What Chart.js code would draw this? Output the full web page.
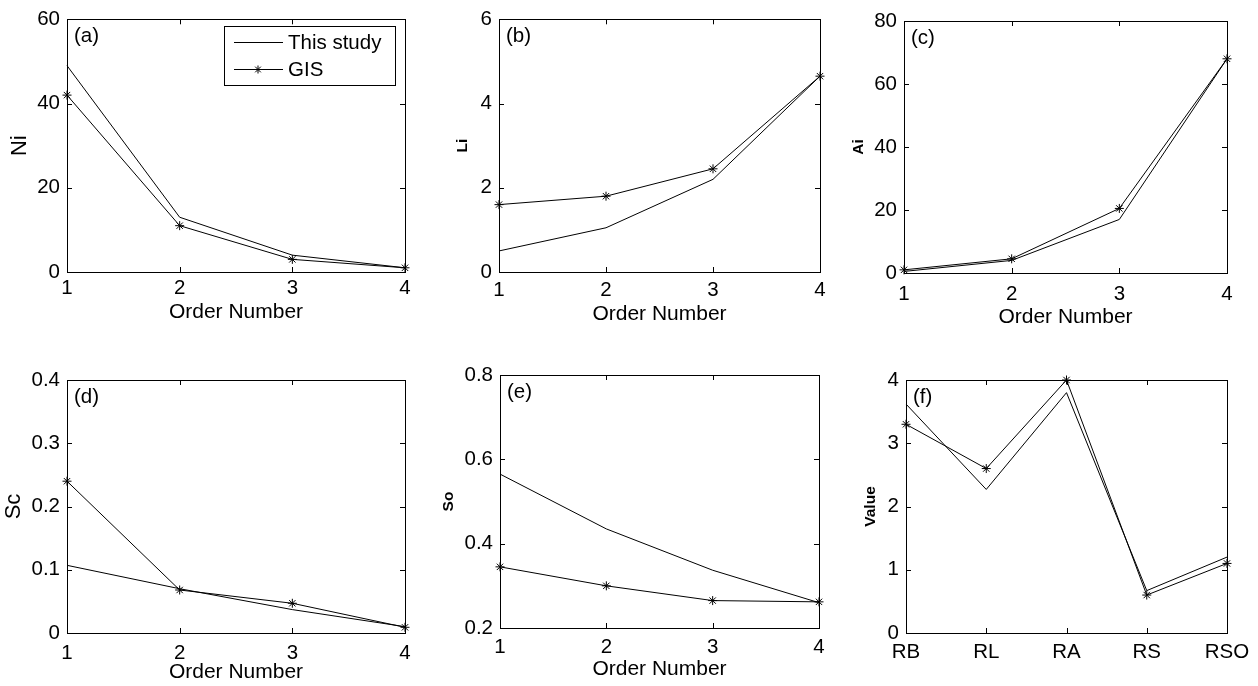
<!DOCTYPE html>
<html>
<head>
    <meta charset="utf-8">
    <title>Order Number panels</title>
    <script src="https://cdn.jsdelivr.net/npm/chart.js@4.4.0/dist/chart.umd.min.js"></script>
    <style>
        body { margin: 0; background: #fff; }
        #wrap { position: relative; width: 1258px; height: 686px; }
        .panel { position: absolute; }
    </style>
</head>
<body>
    <div id="wrap"></div>
    <script>
        // data
        const orders = [1, 2, 3, 4];
        const ratioLabels = ['RB', 'RL', 'RA', 'RS', 'RSO'];
        const seriesNames = ['This study', 'GIS'];

        const niStudy = [49, 13, 4, 1];
        const niGIS = [42, 11, 3, 1];
        const liStudy = [0.5, 1.05, 2.2, 4.65];
        const liGIS = [1.6, 1.8, 2.45, 4.65];
        const aiStudy = [0.5, 4, 17, 68];
        const aiGIS = [1, 4.5, 20.5, 68];
        const scStudy = [0.107, 0.07, 0.037, 0.01];
        const scGIS = [0.24, 0.068, 0.047, 0.009];
        const soStudy = [0.565, 0.435, 0.337, 0.26];
        const soGIS = [0.345, 0.3, 0.265, 0.262];
        const ratioStudy = [3.62, 2.27, 3.8, 0.67, 1.2];
        const ratioGIS = [3.3, 2.6, 4.0, 0.6, 1.1];

        Chart.defaults.font.family = '"Liberation Sans", Arial, Helvetica, sans-serif';
        Chart.defaults.font.size = 20.5;
        Chart.defaults.color = '#000';
        Chart.defaults.animation = false;

        const plainTitle = { size: 22, weight: 'normal' };
        const boldTitle = { size: 15.5, weight: 'bold' };

        // layout of each panel: container box + wanted plot area (page px)
        const panels = [
            { id: 'a', box: [0, 0, 420, 340], plot: [67, 16, 405, 272], y: [0, 60, 20], yTitle: 'Ni', yFont: plainTitle, yTitleX: 20, xTitleY: 313, xPad: 4,
              study: niStudy, gis: niGIS, legend: true },
            { id: 'b', box: [420, 0, 418, 340], plot: [499, 16, 820, 272], y: [0, 6, 2], yTitle: 'Li', yFont: boldTitle, yTitleX: 463, xTitleY: 315, xPad: 6,
              study: liStudy, gis: liGIS },
            { id: 'c', box: [838, 0, 420, 340], plot: [904, 21, 1227, 273], y: [0, 80, 20], yTitle: 'Ai', yFont: boldTitle, yTitleX: 859, xTitleY: 318, xPad: 9,
              study: aiStudy, gis: aiGIS },
            { id: 'd', box: [0, 340, 420, 346], plot: [67, 380, 405, 633], y: [0, 0.4, 0.1], yTitle: 'Sc', yFont: plainTitle, yTitleX: 14, xTitleY: 673, xPad: 8,
              study: scStudy, gis: scGIS },
            { id: 'e', box: [420, 340, 418, 346], plot: [500, 375, 819, 628], y: [0.2, 0.8, 0.2], yTitle: 'So', yFont: boldTitle, yTitleX: 449, xTitleY: 670, xPad: 7,
              study: soStudy, gis: soGIS },
            { id: 'f', box: [838, 340, 420, 346], plot: [906, 380, 1227, 633], y: [0, 4, 1], yTitle: 'Value', yFont: boldTitle, yTitleX: 871, xTitleY: null, xPad: 7,
              study: ratioStudy, gis: ratioGIS, categories: ratioLabels }
        ];

        // matlab style box, inward ticks, panel tag and legend
        const matlabBox = {
            id: 'matlabBox',
            afterDraw(chart, args, opts) {
                const ctx = chart.ctx;
                const a = chart.chartArea;
                const xs = chart.scales.x, ys = chart.scales.y;
                const tl = 5;
                ctx.save();
                ctx.strokeStyle = '#000';
                ctx.lineWidth = 1;
                ctx.strokeRect(Math.round(a.left) + 0.5, Math.round(a.top) + 0.5, Math.round(a.right - a.left), Math.round(a.bottom - a.top));
                ctx.beginPath();
                xs.ticks.forEach((t, i) => {
                    const px = Math.round(xs.getPixelForTick(i)) + 0.5;
                    ctx.moveTo(px, a.bottom); ctx.lineTo(px, a.bottom - tl);
                    ctx.moveTo(px, a.top); ctx.lineTo(px, a.top + tl);
                });
                ys.ticks.forEach((t, i) => {
                    const py = Math.round(ys.getPixelForTick(i)) + 0.5;
                    ctx.moveTo(a.left, py); ctx.lineTo(a.left + tl, py);
                    ctx.moveTo(a.right, py); ctx.lineTo(a.right - tl, py);
                });
                ctx.stroke();

                ctx.fillStyle = '#000';
                ctx.font = '20.5px "Liberation Sans", Arial, sans-serif';
                ctx.textBaseline = 'middle';
                ctx.textAlign = 'left';
                ctx.fillText('(' + opts.tag + ')', a.left + 7, a.top + 17);

                if (opts.legend) {
                    const w = 171, h = 59;
                    const lx = a.right - 10 - w, ly = a.top + 7;
                    ctx.strokeRect(Math.round(lx) + 0.5, Math.round(ly) + 0.5, w, h);
                    const dsets = chart.data.datasets;
                    dsets.forEach((ds, i) => {
                        const yy = Math.round(ly + 16 + i * 27) + 0.5;
                        ctx.beginPath();
                        ctx.moveTo(lx + 10, yy); ctx.lineTo(lx + 59, yy);
                        ctx.stroke();
                        if (ds.pointStyle === 'star') {
                            Chart.helpers.drawPoint(ctx, { pointStyle: 'star', radius: 4, borderWidth: 1 }, lx + 34, yy);
                        }
                        ctx.fillText(ds.label, lx + 64, yy + 1);
                    });
                }
                ctx.restore();
            }
        };

        panels.forEach(p => {
            const [bx, by, bw, bh] = p.box;
            const [pl, pt, pr, pb] = p.plot;
            const div = document.createElement('div');
            div.className = 'panel';
            div.style.left = bx + 'px';
            div.style.top = by + 'px';
            div.style.width = bw + 'px';
            div.style.height = bh + 'px';
            const cv = document.createElement('canvas');
            div.appendChild(cv);
            document.getElementById('wrap').appendChild(div);

            const xVals = p.categories ? p.categories : orders;
            const toPts = arr => arr.map((v, i) => ({ x: xVals[i], y: v }));

            const yLine = p.yFont.size * 1.2;
            const xLine = 20.5 * 1.2;

            const xScale = p.categories ? {
                type: 'category',
                labels: p.categories,
                offset: false
            } : {
                type: 'linear',
                min: 1, max: 4
            };
            Object.assign(xScale, {
                position: 'bottom',
                border: { display: false },
                grid: { display: false, drawTicks: false },
                ticks: { padding: p.xPad, stepSize: 1, maxRotation: 0, autoSkip: false, color: '#000' },
                title: p.xTitleY ? {
                    display: true, text: 'Order Number', color: '#000', font: { size: 21 },
                    padding: { top: 0, bottom: (by + bh) - p.xTitleY - xLine / 2 }
                } : { display: false },
                afterFit(s) { s.height = (by + bh) - pb; }
            });

            new Chart(cv, {
                type: 'line',
                data: {
                    datasets: [
                        { label: seriesNames[0], data: toPts(p.study), borderColor: '#000', borderWidth: 1, pointRadius: 0, clip: false },
                        { label: seriesNames[1], data: toPts(p.gis), borderColor: '#000', backgroundColor: '#000', borderWidth: 1,
                          pointStyle: 'star', pointRadius: 4.5, pointBorderWidth: 1, pointBorderColor: '#000', clip: false }
                    ]
                },
                options: {
                    responsive: true,
                    maintainAspectRatio: false,
                    events: [],
                    layout: { padding: { left: 0, top: pt - by, right: (bx + bw) - pr, bottom: 0 } },
                    plugins: {
                        legend: { display: false },
                        tooltip: { enabled: false },
                        matlabBox: { tag: p.id, legend: !!p.legend }
                    },
                    scales: {
                        x: xScale,
                        y: {
                            min: p.y[0], max: p.y[1],
                            border: { display: false },
                            grid: { display: false, drawTicks: false },
                            ticks: { stepSize: p.y[2], padding: 7, color: '#000' },
                            title: {
                                display: true, text: p.yTitle, color: '#000', font: p.yFont,
                                padding: { top: p.yTitleX - bx - yLine / 2, bottom: 0 }
                            },
                            afterFit(s) { s.width = pl - bx; }
                        }
                    }
                },
                plugins: [matlabBox]
            });
        });
    </script>
</body>
</html>
